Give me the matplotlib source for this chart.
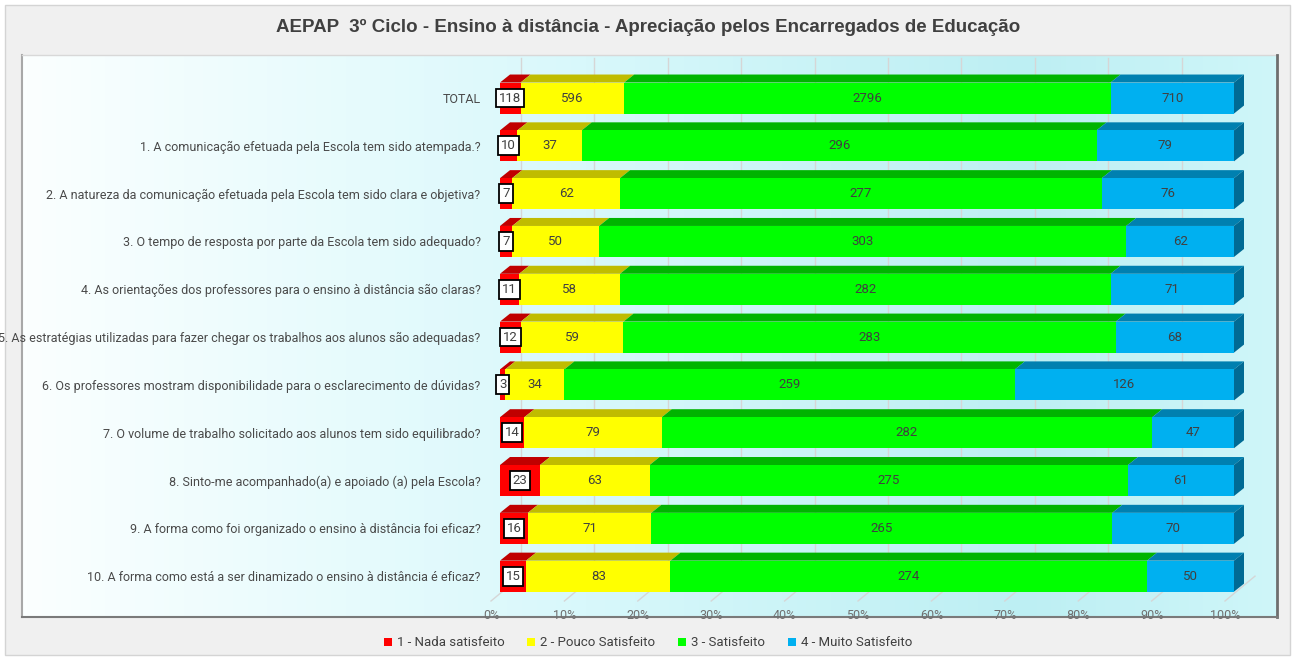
import numpy as np
import matplotlib.pyplot as plt
from matplotlib.patches import Polygon, Rectangle, Patch
from matplotlib.colors import LinearSegmentedColormap
from matplotlib.transforms import ScaledTranslation

plt.rcParams['font.family'] = ['Roboto', 'DejaVu Sans']

# dados
perguntas = ['TOTAL',
             '1. A comunicação efetuada pela Escola tem sido atempada.?',
             '2. A natureza da comunicação efetuada pela Escola tem sido clara e objetiva?',
             '3. O tempo de resposta por parte da Escola tem sido adequado?',
             '4. As orientações dos professores para o ensino à distância são claras?',
             '5. As estratégias utilizadas para fazer chegar os trabalhos aos alunos são adequadas?',
             '6. Os professores mostram disponibilidade para o esclarecimento de dúvidas?',
             '7. O volume de trabalho solicitado aos alunos tem sido equilibrado?',
             '8. Sinto-me acompanhado(a) e apoiado (a) pela Escola?',
             '9. A forma como foi organizado o ensino à distância foi eficaz?',
             '10. A forma como está a ser dinamizado o ensino à distância é eficaz?']
nada = [118, 10, 7, 7, 11, 12, 3, 14, 23, 16, 15]
pouco = [596, 37, 62, 50, 58, 59, 34, 79, 63, 71, 83]
satisfeito = [2796, 296, 277, 303, 282, 283, 259, 282, 275, 265, 274]
muito = [710, 79, 76, 62, 71, 68, 126, 47, 61, 70, 50]
legenda = ['1 - Nada satisfeito', '2 - Pouco Satisfeito', '3 - Satisfeito', '4 - Muito Satisfeito']
ticks_pct = [0, 10, 20, 30, 40, 50, 60, 70, 80, 90, 100]

frente = ['#ff0000', '#ffff00', '#00ff00', '#00b0f0']
topo = ['#c00000', '#c0bc00', '#00b400', '#0080b0']
lado = '#006a94'

W, H = 1296, 660
fig = plt.figure(figsize=(W/100, H/100), dpi=100)
fig.patch.set_facecolor('white')

# fundo / moldura (pixels)
bg = fig.add_axes([0, 0, 1, 1])
bg.axis('off')
bg.add_patch(Rectangle((5, 5), W-11, H-10, fc='#f0f0f0', ec='#d4d4d4', lw=1, zorder=1))
cmap = LinearSegmentedColormap.from_list('fundo', [(0, '#fbffff'), (0.45, '#d8f8fb'),
                                                   (0.8, '#bdeff3'), (1, '#cff6f9')])
grad = np.linspace(0, 1, 256).reshape(1, -1)
bg.imshow(grad, cmap=cmap, extent=[22, 1277, 617, 55], aspect='auto', zorder=2)
bg.plot([22, 22], [55, 617], color='#a8a8a8', lw=1.5, zorder=3)
bg.plot([22, 1277], [55, 55], color='#d8d8d8', lw=1, zorder=3)
bg.plot([1277, 1277], [55, 617], color='#6e6e6e', lw=2, zorder=3)
bg.plot([22, 1277], [617, 617], color='#7a7a7a', lw=1.5, zorder=3)
bg.set_xlim(0, W)
bg.set_ylim(H, 0)

# eixo principal
ax = fig.add_axes([500/W, (H-601)/H, 734/W, 546/H])
ax.set_xlim(0, 1)
ax.set_ylim(10.52, -0.9)
ax.patch.set_alpha(0)
for s in ax.spines.values():
    s.set_visible(False)

PX = 1/734       # unidade x por pixel
PY = 1/47.8      # unidade y por pixel
dx, dy = 10*PX, 8*PY
h = 31*PY

dados = np.array([nada, pouco, satisfeito, muito], dtype=float)
frac = dados / dados.sum(axis=0)
linhas = np.arange(len(perguntas))

# grelha
for t in np.array(ticks_pct)/100:
    xb = t + 21*PX
    ax.plot([xb, xb], [10.0, -0.84], color='#d6d6d6', lw=1, zorder=1)
    ax.plot([xb, t - 9*PX], [10.0, 10.52], color='#d6d6d6', lw=1, zorder=1, clip_on=False)

esq = np.zeros(len(perguntas))
for j in range(4):
    ax.barh(linhas, frac[j], left=esq, height=h, color=frente[j], lw=0, zorder=3)
    for i in linhas:
        l, w, c = esq[i], frac[j][i], i
        yt = c - h/2
        ax.add_patch(Polygon([(l, yt), (l+w, yt), (l+w+dx, yt-dy), (l+dx, yt-dy)],
                             closed=True, fc=topo[j], lw=0, zorder=2.9, clip_on=False))
        if j == 3:
            ax.add_patch(Polygon([(1, yt), (1+dx, yt-dy), (1+dx, yt+h-dy), (1, yt+h)],
                                 closed=True, fc=lado, lw=0, zorder=2.9, clip_on=False))
        txt = str(int(dados[j][i]))
        if j == 0:
            ax.text(l + w/2, c, txt, ha='center', va='center', fontsize=9.5, color='#404040',
                    zorder=5, bbox=dict(boxstyle='square,pad=0.22', fc='white', ec='black', lw=1.3))
        else:
            ax.text(l + w/2, c, txt, ha='center', va='center', fontsize=9.5, color='#404040', zorder=5)
    esq += frac[j]

ax.set_yticks(linhas, perguntas)
ax.tick_params(axis='y', length=0, pad=14, labelsize=9, labelcolor='#4a4a4a')
ax.set_xticks(np.array(ticks_pct)/100, [f'{t}%' for t in ticks_pct])
ax.tick_params(axis='x', length=0, pad=6, labelsize=9, labelcolor='#707070')
desvio = ScaledTranslation(-9/100, 0, fig.dpi_scale_trans)
for lab in ax.get_xticklabels():
    lab.set_transform(lab.get_transform() + desvio)

fig.text(0.5, 1-27/H, 'AEPAP  3º Ciclo - Ensino à distância - Apreciação pelos Encarregados de Educação',
         ha='center', va='center', fontsize=13.5, fontweight='bold', color='#404040',
         family=['Liberation Sans', 'DejaVu Sans'])

handles = [Patch(fc=c) for c in frente]
leg = fig.legend(handles, legenda, loc='center', bbox_to_anchor=(0.5, 1-643/H), ncol=4,
                 frameon=False, fontsize=9.5, handlelength=0.6, handleheight=0.6,
                 columnspacing=1.7, handletextpad=0.4)
for t in leg.get_texts():
    t.set_color('#404040')

fig.savefig('out.png', dpi=100)
